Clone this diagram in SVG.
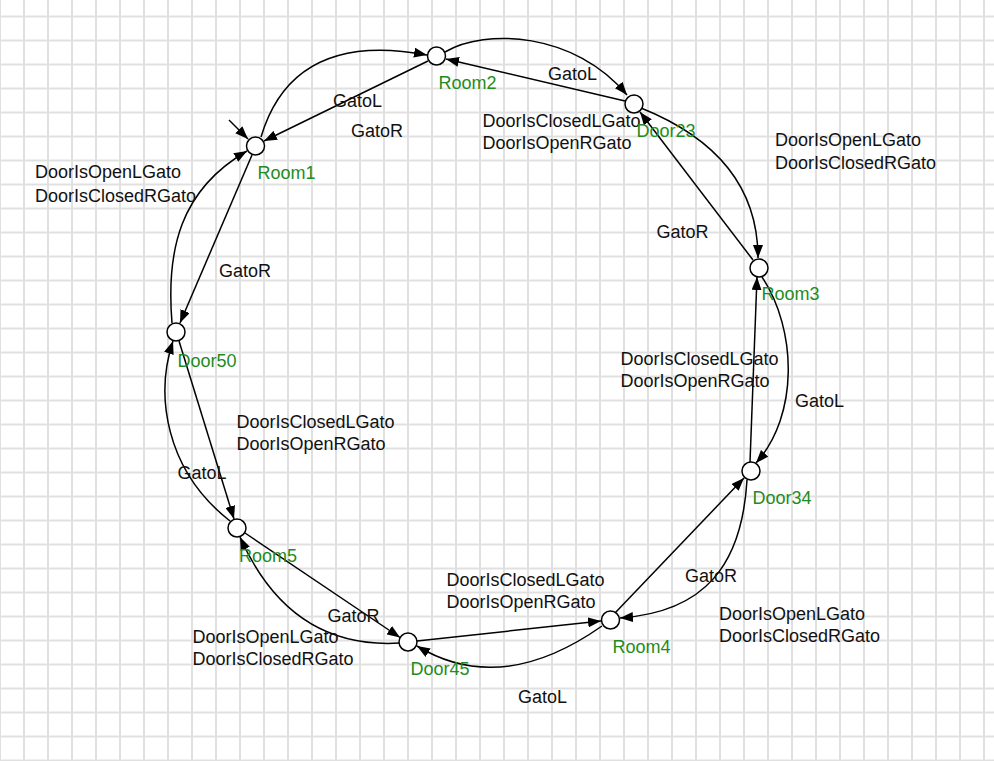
<svg xmlns="http://www.w3.org/2000/svg" width="994" height="761" viewBox="0 0 994 761">
<defs>
<pattern id="grid" patternUnits="userSpaceOnUse" x="-1" y="15.5" width="24" height="24">
<rect x="0" y="0" width="2" height="24" fill="#e0e0e0"/>
<rect x="0" y="0" width="24" height="2" fill="#e0e0e0"/>
</pattern>
<marker id="ah" markerWidth="13" markerHeight="10" refX="13" refY="5" orient="auto" markerUnits="userSpaceOnUse">
<path d="M0,0 L13,5 L0,10 z" fill="#000"/>
</marker>
<style>
.edge{fill:none;stroke:#000;stroke-width:1.5;marker-end:url(#ah)}
.st{fill:#fff;stroke:#000;stroke-width:1.5}
.nl{font-family:"Liberation Sans",Arial,sans-serif;font-size:18px;fill:#1e8c1e}
.el{font-family:"Liberation Sans",Arial,sans-serif;font-size:18px;fill:#111}
</style>
</defs>
<rect x="0" y="0" width="994" height="761" fill="#fff"/>
<rect x="0" y="0" width="994" height="761" fill="url(#grid)"/>
<g id="connectors">
<path class="edge" d="M229,120 L248,139"/>
<path class="edge" d="M261,137 Q293,30 427,55"/>
<path class="edge" d="M428,61 L264,141"/>
<path class="edge" d="M445,52 C485,28 575,32 627,95"/>
<path class="edge" d="M625,101 L446,59"/>
<path class="edge" d="M641,108 Q758,155 758,258"/>
<path class="edge" d="M753,260 L640,112"/>
<path class="edge" d="M762,277 C797,330 799,415 756,463"/>
<path class="edge" d="M750,462 L757,277"/>
<path class="edge" d="M747,480 C742,565 705,612 620,618"/>
<path class="edge" d="M615,613 L744,478"/>
<path class="edge" d="M602,626 Q501,697 417,646"/>
<path class="edge" d="M417,641 L601,621"/>
<path class="edge" d="M400,643 Q290,650 240,537"/>
<path class="edge" d="M245,533 L400,637.5"/>
<path class="edge" d="M230,521 C165,470 155,395 173,341"/>
<path class="edge" d="M179,341 L234,519"/>
<path class="edge" d="M172,323 C166,250 180,190 247,151"/>
<path class="edge" d="M252,155 L180,323"/>
</g>
<g id="edge-labels">
<text class="el" x="333" y="107">GatoL</text>
<text class="el" x="351" y="137">GatoR</text>
<text class="el" x="548" y="80">GatoL</text>
<text class="el" x="482.5" y="127">DoorIsClosedLGato</text>
<text class="el" x="482.5" y="149">DoorIsOpenRGato</text>
<text class="el" x="775" y="146">DoorIsOpenLGato</text>
<text class="el" x="775" y="168.5">DoorIsClosedRGato</text>
<text class="el" x="656.5" y="238">GatoR</text>
<text class="el" x="620.5" y="364.5">DoorIsClosedLGato</text>
<text class="el" x="620.5" y="387">DoorIsOpenRGato</text>
<text class="el" x="795" y="407">GatoL</text>
<text class="el" x="685" y="582">GatoR</text>
<text class="el" x="719" y="620">DoorIsOpenLGato</text>
<text class="el" x="719" y="642">DoorIsClosedRGato</text>
<text class="el" x="446.5" y="586">DoorIsClosedLGato</text>
<text class="el" x="446.5" y="608">DoorIsOpenRGato</text>
<text class="el" x="518" y="703">GatoL</text>
<text class="el" x="327.5" y="622">GatoR</text>
<text class="el" x="192.5" y="643">DoorIsOpenLGato</text>
<text class="el" x="192.5" y="664.5">DoorIsClosedRGato</text>
<text class="el" x="177.5" y="478.5">GatoL</text>
<text class="el" x="236.5" y="428">DoorIsClosedLGato</text>
<text class="el" x="236.5" y="450">DoorIsOpenRGato</text>
<text class="el" x="219" y="277">GatoR</text>
<text class="el" x="35" y="177.5">DoorIsOpenLGato</text>
<text class="el" x="35" y="201.5">DoorIsClosedRGato</text>
</g>
<g id="Room1"><circle class="st" cx="255.5" cy="146" r="9"/><text class="nl" x="257.5" y="179">Room1</text></g>
<g id="Room2"><circle class="st" cx="436.5" cy="56" r="9"/><text class="nl" x="438.5" y="88.5">Room2</text></g>
<g id="Door23"><circle class="st" cx="634" cy="104" r="9"/><text class="nl" x="636.5" y="137">Door23</text></g>
<g id="Room3"><circle class="st" cx="759" cy="268" r="9"/><text class="nl" x="761.5" y="300">Room3</text></g>
<g id="Door34"><circle class="st" cx="751" cy="471" r="9"/><text class="nl" x="752.5" y="504">Door34</text></g>
<g id="Room4"><circle class="st" cx="610.5" cy="620" r="9"/><text class="nl" x="612.5" y="653">Room4</text></g>
<g id="Door45"><circle class="st" cx="408" cy="642" r="9"/><text class="nl" x="410.5" y="675">Door45</text></g>
<g id="Room5"><circle class="st" cx="237" cy="528" r="9"/><text class="nl" x="239" y="562">Room5</text></g>
<g id="Door50"><circle class="st" cx="176" cy="332" r="9"/><text class="nl" x="177.5" y="367">Door50</text></g>
</svg>
